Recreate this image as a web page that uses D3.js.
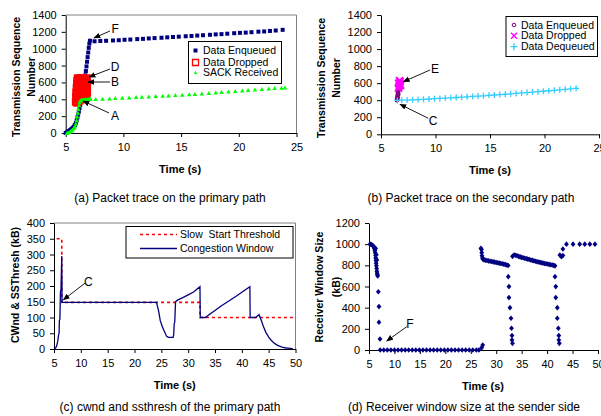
<!DOCTYPE html>
<html>
<head>
<meta charset="utf-8">
<script src="https://cdn.jsdelivr.net/npm/d3@7"></script>
<style>
  body { margin: 0; background: #fff; }
  svg { display: block; font-family: "Liberation Sans", Arial, sans-serif; }
</style>
</head>
<body>
<script>
// ---- (a) packet trace on the primary path: [time s, tsn]
const enqueuedA = [
  [5.0,0],[5.1,8],[5.2,16],[5.3,25],[5.4,36],[5.5,47],[5.6,60],[5.7,76],[5.8,95],[5.88,120],
  [5.95,150],[6.02,185],[6.08,220],[6.14,255],[6.2,295],[6.26,335],[6.32,375],[6.38,415],
  [6.44,460],[6.5,505],[6.55,545],[6.6,590],[6.65,635],[6.7,685],[6.75,735],[6.8,790],
  [6.85,845],[6.9,900],[6.95,955],[7.0,1010],[7.05,1060],[7.1,1095],
  [7.5,1088],[8.0,1092],[8.5,1094],[9.1,1098],[9.6,1101],[10.1,1106],[10.6,1109],[11.2,1114],
  [11.7,1117],[12.2,1122],[12.7,1126],[13.3,1130],[13.8,1135],[14.3,1139],[14.8,1143],
  [15.4,1148],[15.9,1151],[16.4,1156],[16.9,1160],[17.5,1165],[18.0,1170],[18.5,1173],
  [19.0,1178],[19.6,1184],[20.1,1188],[20.6,1191],[21.1,1196],[21.7,1202],[22.2,1205],
  [22.7,1211],[23.2,1216],[23.8,1224]
];
const droppedA = [
  [5.88,370],[5.9,430],[5.92,480],[5.95,530],[5.98,580],[6.0,620],[6.05,650],[6.0,360],
  [6.02,400],[6.08,450],[6.1,500],[6.12,550],[6.15,600],[6.2,640],[6.2,385],[6.25,420],
  [6.3,470],[6.32,520],[6.35,570],[6.4,620],[6.45,650],[6.4,400],[6.5,450],[6.5,500],
  [6.55,550],[6.58,600],[6.62,640],[6.65,420],[6.7,470],[6.72,520],[6.75,570],[6.8,620],
  [6.82,650],[6.8,430],[6.85,480],[6.85,540],[6.85,600],[6.12,640],[6.6,405],[6.3,650]
];
const sackA = [
  [5.1,0],[5.2,5],[5.3,12],[5.4,20],[5.5,30],[5.6,42],[5.7,58],[5.8,78],[5.88,110],[5.94,150],
  [6.0,195],[6.05,240],[6.1,285],[6.15,330],[6.2,365],[6.27,385],[6.35,392],[6.45,395],
  [6.55,397],[6.65,398],[6.75,400],[6.85,401],[6.95,402],[7.05,403],[7.15,405],
  [7.6,403],[8.2,407],[8.8,410],[9.3,414],[9.9,418],[10.5,422],[11.1,426],[11.6,430],
  [12.2,434],[12.8,438],[13.4,442],[13.9,446],[14.5,450],[15.1,455],[15.7,460],[16.2,464],
  [16.8,469],[17.4,474],[18.0,480],[18.5,486],[19.1,492],[19.7,498],[20.3,504],[20.8,510],
  [21.4,516],[22.0,522],[22.6,528],[23.1,533],[23.7,538],[24.0,540]
];
const notesA = [
  {label: "F", at: [9.28,1234], from: [8.84,1210], to: [7.45,1127]},
  {label: "D", at: [9.28,783], from: [8.84,759], to: [7.02,664]},
  {label: "B", at: [9.28,605], from: [8.84,605], to: [6.93,605]},
  {label: "A", at: [9.28,202], from: [8.76,237], to: [6.5,380]}
];

// ---- (b) packet trace on the secondary path
const enqueuedB = [
  [6.45,400],[6.47,420],[6.5,440],[6.52,460],[6.55,480],[6.57,500],[6.6,520],[6.62,540],
  [6.65,560],[6.67,580],[6.7,600],[6.5,410],[6.55,430],[6.6,470]
];
const droppedB = [
  [6.6,540],[6.65,560],[6.7,580],[6.72,600],[6.75,620],[6.8,575],[6.7,630],[6.62,600]
];
const dequeuedB = [
  [6.5,398],[6.9,400],[7.4,402],[7.9,405],[8.4,408],[8.9,411],[9.4,414],[9.9,418],[10.4,421],
  [10.9,425],[11.4,428],[11.9,432],[12.4,436],[12.9,440],[13.4,444],[13.9,448],[14.4,452],
  [14.9,457],[15.4,461],[15.9,466],[16.4,470],[16.9,475],[17.4,480],[17.9,485],[18.4,490],
  [18.9,495],[19.4,500],[19.9,505],[20.4,511],[20.9,516],[21.4,522],[21.9,528],[22.4,534],
  [22.9,540]
];
const notesB = [
  {label: "E", at: [9.95,766], from: [9.5,755], to: [7.05,617]},
  {label: "C", at: [9.77,156], from: [9.34,188], to: [6.74,352]}
];

// ---- (c) cwnd and ssthresh (kB)
const ssthresh = [[5.5,350],[6.45,350],[6.45,148],[32.2,148],[32.2,100],[49.5,100]];
const cwnd = [
  [5.0,0],[5.3,3],[5.5,10],[5.7,25],[5.85,45],[5.95,50],[6.0,90],[6.1,95],[6.2,180],[6.3,190],
  [6.45,295],[6.5,150],[6.55,148],[24.1,148],[24.5,120],[24.8,90],[25.2,70],[25.6,55],
  [26.0,40],[26.3,37],[27.2,37],[27.3,45],[27.4,80],[27.5,85],[27.65,150],[28.0,155],
  [29.0,163],[30.0,172],[31.0,181],[32.2,198],[32.25,100],[33.2,100],[34.0,110],[35.0,122],
  [36.0,135],[37.0,146],[38.0,157],[39.0,168],[40.0,180],[41.5,198],[41.55,100],[42.6,100],
  [43.0,106],[43.2,109],[43.6,92],[44.0,72],[44.5,52],[45.0,38],[45.5,27],[46.0,19],
  [46.5,13],[47.0,9],[47.5,6],[48.0,4],[48.5,3],[49.0,2],[49.5,1]
];
const notesC = [{label: "C", at: [11.39,214], from: [10.78,209], to: [6.73,156]}];

// ---- (d) receiver window size (kB)
const rwnd = [
  [5.2,1000],[5.4,998],[5.6,992],[5.8,985],[5.95,975],[6.05,960],[6.15,940],[6.22,920],
  [6.28,895],[6.32,870],[6.36,845],[6.4,820],[6.45,795],[6.5,770],[6.55,745],[6.6,725],
  [6.65,710],[6.7,700],[6.3,960],[6.45,900],[6.55,850],
  [6.83,551],[6.96,410],[6.96,262],[7.16,104],
  [7.2,0],[7.9,0],[8.6,0],[9.3,0],[10.0,0],[10.7,0],[11.4,0],[12.1,0],[12.8,0],[13.5,0],
  [14.2,0],[14.9,0],[15.6,0],[16.3,0],[17.0,0],[17.7,0],[18.4,0],[19.1,0],[19.8,0],[20.5,0],
  [21.2,0],[21.9,0],[22.6,0],[23.3,0],[24.0,0],[24.7,0],[25.4,0],[26.1,0],[26.6,0],
  [27.15,22],[27.35,47],
  [27.0,961],[27.1,950],[27.15,920],[27.2,890],[27.3,870],[27.4,858],
  [27.6,852],[27.9,848],[28.2,845],[28.5,842],[28.8,839],[29.1,836],[29.4,833],[29.7,830],
  [30.0,827],[30.3,824],[30.6,821],[30.9,818],[31.2,815],[31.5,811],[31.8,807],[32.1,803],
  [32.35,798],
  [32.37,693],[32.5,599],[32.5,495],[32.7,400],[32.9,300],[33.0,205],[33.1,136],[33.1,95],[33.2,63],
  [33.2,885],[33.5,898],[33.8,895],[34.1,890],[34.4,885],[34.7,880],[35.0,875],[35.3,871],
  [35.6,867],[35.9,863],[36.2,859],[36.5,855],[36.8,851],[37.1,847],[37.4,843],[37.7,839],
  [38.0,835],[38.3,831],[38.6,828],[38.9,824],[39.2,821],[39.5,818],[39.8,815],[40.1,812],
  [40.4,809],[40.7,806],[41.0,803],[41.3,800],[41.55,795],
  [41.55,693],[41.7,599],[41.7,495],[42.0,400],[42.0,300],[42.2,205],[42.3,136],[42.3,95],[42.4,63],
  [42.5,898],[42.8,882],[43.1,892],[43.1,955],[43.8,1000],[45.1,1000],[46.4,1000],[47.4,1000],
  [48.4,1000],[49.4,1000]
];
const notesD = [{label: "F", at: [13.06,252], from: [12.41,220], to: [8.48,85]}];

const xTicks20 = [5, 10, 15, 20, 25];
const xTicks45 = [5, 10, 15, 20, 25, 30, 35, 40, 45, 50];

const navy = "#000080";
const svg = d3.select("body").append("svg").attr("width", 601).attr("height", 416);
svg.append("rect").attr("width", 601).attr("height", 416).attr("fill", "#fff");

svg.append("defs").append("marker")
  .attr("id", "arrow").attr("viewBox", "0 0 10 10").attr("refX", 9).attr("refY", 5)
  .attr("markerWidth", 7).attr("markerHeight", 7).attr("markerUnits", "userSpaceOnUse")
  .attr("orient", "auto")
  .append("path").attr("d", "M0,1L10,5L0,9Z").attr("fill", "#000");

// marker shapes
const sq = s => `M${-s / 2},${-s / 2}h${s}v${s}h${-s}Z`;
const tri = (w, h) => `M0,${-h / 2}L${w / 2},${h / 2}L${-w / 2},${h / 2}Z`;
const plus = a => `M${-a},0H${a}M0,${-a}V${a}`;
const times = a => `M${-a},${-a}L${a},${a}M${a},${-a}L${-a},${a}`;
const diamond = (w, h) => `M0,${-h}L${w},0L0,${h}L${-w},0Z`;
const circ = r => `M${-r},0a${r},${r} 0 1,0 ${2 * r},0a${r},${r} 0 1,0 ${-2 * r},0`;

function makePanel(o) {
  const x = d3.scaleLinear().domain(o.xDomain).range([o.left, o.right]);
  const y = d3.scaleLinear().domain(o.yDomain).range([o.bottom, o.top]);
  const g = svg.append("g");

  if (o.box) {
    g.append("path")
      .attr("d", `M${o.left},${o.top}H${o.right}V${o.bottom}`)
      .attr("fill", "none").attr("stroke", "#808080");
  }

  const style = a => {
    a.attr("font-size", 11).attr("font-family", "'Liberation Sans', Arial, sans-serif");
    a.selectAll("path,line").attr("stroke", "#000");
    a.selectAll("text").attr("fill", "#000");
  };
  g.append("g").attr("transform", `translate(0,${o.bottom})`)
    .call(d3.axisBottom(x).tickValues(o.xTicks).tickSize(4).tickSizeOuter(0).tickPadding(6))
    .call(style);
  g.append("g").attr("transform", `translate(${o.left},0)`)
    .call(d3.axisLeft(y).tickValues(o.yTicks).tickFormat(d3.format("d"))
      .tickSize(4).tickSizeOuter(0).tickPadding(5))
    .call(style);

  // axis titles
  g.append("text").attr("x", (o.left + o.right) / 2 + o.timeDx).attr("y", o.bottom + 40)
    .attr("text-anchor", "middle").attr("font-size", 11).attr("font-weight", "bold")
    .text("Time (s)");
  o.yLabel.forEach((t, i) => {
    g.append("text")
      .attr("transform", `translate(${o.yLabelX[i]},${o.yLabelY}) rotate(-90)`)
      .attr("dy", "0.35em").attr("text-anchor", "middle")
      .attr("font-size", 10.5).attr("font-weight", "bold").text(t);
  });
  g.append("text").attr("x", o.captionX).attr("y", o.captionY)
    .attr("text-anchor", "middle").attr("font-size", 12).text(o.caption);

  return {x, y, g};
}

function dots(p, data, shape, attrs) {
  const sel = p.g.append("g").selectAll("path").data(data).join("path")
    .attr("transform", d => `translate(${p.x(d[0])},${p.y(d[1])})`)
    .attr("d", shape);
  Object.entries(attrs).forEach(([k, v]) => sel.attr(k, v));
}

function notes(p, list) {
  list.forEach(n => {
    p.g.append("line")
      .attr("x1", p.x(n.from[0])).attr("y1", p.y(n.from[1]))
      .attr("x2", p.x(n.to[0])).attr("y2", p.y(n.to[1]))
      .attr("stroke", "#000").attr("stroke-width", 0.9).attr("marker-end", "url(#arrow)");
    p.g.append("text").attr("x", p.x(n.at[0])).attr("y", p.y(n.at[1]))
      .attr("text-anchor", "middle").attr("dy", "0.36em").attr("font-size", 12).text(n.label);
  });
}

function legend(g, box, rows) {
  g.append("rect").attr("x", box[0]).attr("y", box[1]).attr("width", box[2]).attr("height", box[3])
    .attr("fill", "#fff").attr("stroke", "#000");
  rows.forEach(r => {
    r.draw(g.append("g").attr("transform", `translate(${r.mx},${r.y})`));
    g.append("text").attr("x", r.tx).attr("y", r.y).attr("dy", "0.35em")
      .attr("font-size", 10.5).style("white-space", "pre").text(r.label);
  });
}

// ---- panel (a)
const pa = makePanel({
  xDomain: [5, 25], yDomain: [0, 1400], left: 65.7, right: 296.5, top: 15, bottom: 133,
  xTicks: xTicks20, yTicks: d3.range(0, 1401, 200), box: true, timeDx: -1,
  yLabel: ["Transmission Sequence", "Number"], yLabelX: [16.5, 31.5], yLabelY: 77,
  caption: "(a) Packet trace on the primary path", captionX: 170, captionY: 202
});
dots(pa, enqueuedA, sq(4), {fill: navy});
dots(pa, droppedA, sq(6), {fill: "none", stroke: "#ff0000", "stroke-width": 2});
dots(pa, sackA, tri(4.5, 4), {fill: "#00ff00"});
notes(pa, notesA);
legend(pa.g, [188.5, 41.5, 93, 42], [
  {label: "Data Enqueued", y: 50.5, mx: 195.5, tx: 203,
    draw: s => s.append("path").attr("d", sq(4)).attr("fill", navy)},
  {label: "Data Dropped", y: 62.5, mx: 195.5, tx: 203,
    draw: s => s.append("path").attr("d", sq(6)).attr("fill", "none").attr("stroke", "#ff0000").attr("stroke-width", 1.3)},
  {label: "SACK Received", y: 72.5, mx: 195.5, tx: 203,
    draw: s => s.append("path").attr("d", tri(3.5, 3)).attr("fill", "#00ff00")}
]);

// ---- panel (b)
const pb = makePanel({
  xDomain: [5, 25], yDomain: [0, 1400], left: 381, right: 599, top: 15, bottom: 134.3,
  xTicks: xTicks20, yTicks: d3.range(0, 1401, 200), box: false, timeDx: 0,
  yLabel: ["Transmission Sequence", "Number"], yLabelX: [321, 336], yLabelY: 78,
  caption: "(b) Packet trace on the secondary path", captionX: 471, captionY: 202
});
dots(pb, enqueuedB, circ(1.6), {fill: "none", stroke: "#800080", "stroke-width": 1.2});
dots(pb, droppedB, times(3.5), {fill: "none", stroke: "#ff00ff", "stroke-width": 2});
dots(pb, dequeuedB, plus(3), {fill: "none", stroke: "#33ccff", "stroke-width": 1.3});
notes(pb, notesB);
legend(pb.g, [506, 16.5, 91.5, 40], [
  {label: "Data Enqueued", y: 25, mx: 514, tx: 521,
    draw: s => s.append("path").attr("d", circ(1.8)).attr("fill", "none").attr("stroke", "#800080")},
  {label: "Data Dropped", y: 35.7, mx: 514, tx: 521,
    draw: s => s.append("path").attr("d", times(3)).attr("stroke", "#ff00ff").attr("stroke-width", 1.4)},
  {label: "Data Dequeued", y: 46.7, mx: 514, tx: 521,
    draw: s => s.append("path").attr("d", plus(3.5)).attr("stroke", "#33ccff").attr("stroke-width", 1.3)}
]);

// ---- panel (c)
const pc = makePanel({
  xDomain: [5, 50], yDomain: [0, 400], left: 54, right: 295.5, top: 223, bottom: 349,
  xTicks: xTicks45, yTicks: d3.range(0, 401, 50), box: true, timeDx: 0,
  yLabel: ["CWnd & SSThresh (kB)"], yLabelX: [15.5], yLabelY: 285,
  caption: "(c) cwnd and ssthresh of the primary path", captionX: 170, captionY: 411
});
const linec = d3.line().x(d => pc.x(d[0])).y(d => pc.y(d[1]));
pc.g.append("path").datum(ssthresh).attr("d", linec).attr("fill", "none")
  .attr("stroke", "#ff0000").attr("stroke-width", 1.6).attr("stroke-dasharray", "3,3");
pc.g.append("path").datum(cwnd).attr("d", linec).attr("fill", "none")
  .attr("stroke", navy).attr("stroke-width", 1.3);
notes(pc, notesC);
legend(pc.g, [126, 226.5, 167, 31.5], [
  {label: "Slow  Start Threshold", y: 234.5, mx: 140, tx: 180,
    draw: s => s.append("line").attr("x2", 37).attr("stroke", "#ff0000").attr("stroke-width", 1.6).attr("stroke-dasharray", "3,3")},
  {label: "Congestion Window", y: 248.5, mx: 140, tx: 180,
    draw: s => s.append("line").attr("x2", 37).attr("stroke", navy).attr("stroke-width", 1.3)}
]);

// ---- panel (d)
const pd = makePanel({
  xDomain: [5, 50], yDomain: [0, 1200], left: 369, right: 598, top: 223, bottom: 350,
  xTicks: xTicks45, yTicks: d3.range(0, 1201, 200), box: false, timeDx: -0.5,
  yLabel: ["Receiver Window Size", "(kB)"], yLabelX: [319, 336], yLabelY: 287,
  caption: "(d) Receiver window size at the sender side", captionX: 464, captionY: 411
});
dots(pd, rwnd, diamond(2.4, 2.8), {fill: navy});
notes(pd, notesD);
</script>
</body>
</html>
